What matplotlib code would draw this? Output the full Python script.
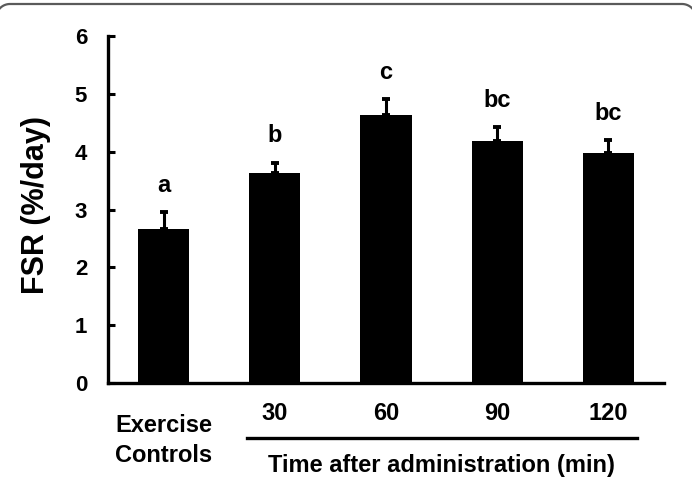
import matplotlib
matplotlib.use("Agg")
import matplotlib.pyplot as plt
from matplotlib.lines import Line2D
import numpy as np

groups = ["Exercise\nControls", "30", "60", "90", "120"]
fsr_mean = [2.66, 3.63, 4.63, 4.18, 3.97]
fsr_sem = [0.29, 0.18, 0.28, 0.24, 0.23]
sig_letters = ["a", "b", "c", "bc", "bc"]
y_ticks = [0, 1, 2, 3, 4, 5, 6]
y_label = "FSR (%/day)"
group_label = "Time after administration (min)"

plt.rcParams['font.family'] = ['Liberation Sans', 'DejaVu Sans']
plt.rcParams['font.weight'] = 'bold'

W, H = 692, 478
fig = plt.figure(figsize=(W / 100, H / 100), dpi=100)

# outer frame: top edge with rounded corners that run off the canvas sides
r, top = 14.0, 4.0
t_left = np.linspace(np.pi / 2, np.pi, 30)
t_right = np.linspace(0, np.pi / 2, 30)[::-1]
cxl, cxr, cy = -4 + r, W + 4 - r, top + r
px = np.concatenate([cxl + r * np.cos(t_left[::-1]), cxr + r * np.cos(t_right[::-1])[::-1]])
py = np.concatenate([cy - r * np.sin(t_left[::-1]), cy - r * np.sin(t_right[::-1])[::-1]])
frame = Line2D(px / W, 1 - py / H, transform=fig.transFigure, color="#5a5a5a",
               linewidth=1.6, solid_capstyle="butt")
fig.lines.append(frame)

ax = fig.add_axes([108 / W, 1 - 383 / H, (664 - 108) / W, (383 - 36) / H])
x = np.arange(len(groups))
ax.bar(x, fsr_mean, width=0.46, color="black", zorder=2)
ax.errorbar(x, fsr_mean, yerr=[np.zeros(len(x)), fsr_sem], fmt="none",
            ecolor="black", elinewidth=2.2, capsize=3.2, capthick=2.8, zorder=1)

for xi, m, s, lab in zip(x, fsr_mean, fsr_sem, sig_letters):
    ax.text(xi, m + s + 0.35, lab, ha="center", va="baseline",
            fontsize=17, fontweight="bold")

ax.set_xlim(-0.5, 4.5)
ax.set_ylim(0, 6)
ax.set_yticks(y_ticks)
ax.set_yticklabels([str(t) for t in y_ticks], fontsize=16, fontweight="bold")
ax.tick_params(axis="y", direction="in", length=5, width=2.2, pad=15)
ax.set_xticks([])
for side in ["top", "right"]:
    ax.spines[side].set_visible(False)
for side in ["left", "bottom"]:
    ax.spines[side].set_linewidth(2.4)

fig.text(36 / W, 1 - 205 / H, y_label, rotation=90, ha="center", va="center",
         fontsize=22, fontweight="bold")

tr = ax.get_xaxis_transform()
ax.text(x[0], -0.1412, "Exercise", transform=tr, ha="center", va="baseline",
        fontsize=17, fontweight="bold")
ax.text(x[0], -0.2277, "Controls", transform=tr, ha="center", va="baseline",
        fontsize=17, fontweight="bold")
for xi, lab in zip(x[1:], groups[1:]):
    ax.text(xi, -0.1066, lab, transform=tr, ha="center", va="baseline",
            fontsize=17, fontweight="bold")
ax.plot([x[1] - 0.25, x[-1] + 0.26], [-0.1576, -0.1576], transform=tr,
        color="black", linewidth=2.4, clip_on=False)
ax.text((x[1] + x[-1]) / 2, -0.2555, group_label, transform=tr, ha="center",
        va="baseline", fontsize=17, fontweight="bold")

fig.savefig("out.png", dpi=100)
